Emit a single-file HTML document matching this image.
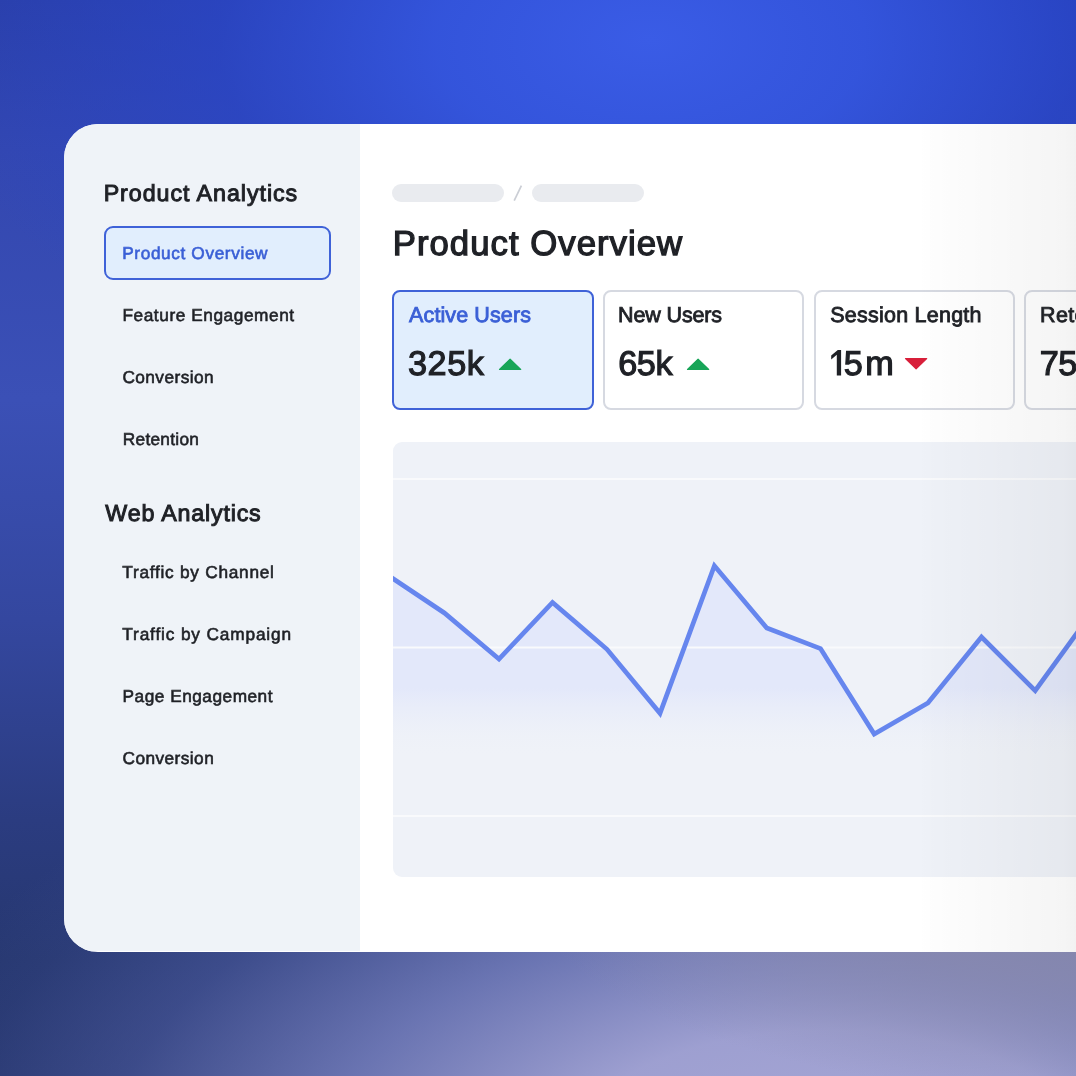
<!DOCTYPE html>
<html lang="en">
<head>
<meta charset="utf-8">
<title>Product Overview</title>
<style>
  html, body { margin: 0; padding: 0; }
  body {
    width: 1076px; height: 1076px; overflow: hidden; position: relative;
    font-family: "Liberation Sans", sans-serif;
    color: #1f2126;
    background: #3a4fb5;
  }
  .bg { position: absolute; left: 0; top: 0; width: 1076px; height: 1076px;
    background:
      radial-gradient(ellipse 720px 400px at 650px 40px, rgba(58,92,230,1) 0%, rgba(52,86,224,0.9) 30%, rgba(42,70,200,0.7) 60%, rgba(40,66,190,0) 100%),
      radial-gradient(ellipse 380px 300px at 1130px 0px, rgba(36,64,186,1) 0%, rgba(36,64,186,0) 100%),
      radial-gradient(ellipse 620px 210px at 1150px 890px, rgba(136,137,172,1) 0%, rgba(136,137,174,0.8) 45%, rgba(136,137,176,0) 100%),
      radial-gradient(ellipse 980px 500px at 830px 1170px, rgba(168,168,214,1) 0%, rgba(164,165,214,0.95) 28%, rgba(132,140,204,0.72) 52%, rgba(95,108,182,0.4) 74%, rgba(80,95,170,0.12) 90%, rgba(80,95,170,0) 100%),
      linear-gradient(to bottom, #2a3fa8 0px, #3347b0 150px, #3b50b6 400px, #34479f 620px, #2b3c80 820px, #26376f 960px, #25356c 1076px);
  }

  .panel {
    position: absolute; left: 64px; top: 124px; width: 1100px; height: 828px;
    background: #ffffff; border-radius: 34px; overflow: hidden; will-change: transform;
  }
  .sidebar {
    position: absolute; left: 0; top: 0; width: 296px; height: 826.8px;
    background: #eff3f8;
  }
  .t { position: absolute; white-space: nowrap; line-height: 1; text-rendering: geometricPrecision; }
  .sel {
    position: absolute; left: 40px; top: 102px; width: 223px; height: 50px;
    border: 2px solid #3f62d8; border-radius: 9px; background: #e1eefd;
  }
  .pill { position: absolute; height: 18px; border-radius: 9px; background: #e9ebef; }
  .card {
    position: absolute; top: 166px; width: 197px; height: 116px;
    border: 2px solid #d6d9e1; border-radius: 8px; background: #fff;
  }
  .card.on { border-color: #3f62d8; background: #e1eefd; }
  .chart {
    position: absolute; left: 329px; top: 318px; width: 800px; height: 434.6px;
    background: #eff2f8; border-radius: 9px; overflow: hidden;
  }
  .fade {
    position: absolute; left: 0; top: 0; width: 1012px; height: 828px;
    background: linear-gradient(to right, rgba(0,0,0,0) 854px, rgba(0,0,0,0.008) 870px, rgba(0,0,0,0.025) 935px, rgba(0,0,0,0.040) 1000px, rgba(0,0,0,0.050) 1012px);
  }
</style>
</head>
<body>
<div class="bg"></div>
<div class="panel">
  <div class="sidebar"></div>
  <div class="sel"></div>

  <div class="pill" style="left:328px; top:60px; width:112px;"></div>
  <div class="pill" style="left:468px; top:60px; width:112px;"></div>

  <div class="card on" style="left:328px; width:198px;"></div>
  <div class="card" style="left:539px;"></div>
  <div class="card" style="left:750px;"></div>
  <div class="card" style="left:960px;"></div>

  <div class="t" id="t0" style="left:39.65px; top:58px; font-size:23.25px; letter-spacing:0.953px; color:#1f2126; -webkit-text-stroke:1.0px #1f2126;">Product Analytics</div>
  <div class="t" id="t1" style="left:58.20px; top:121px; font-size:17.25px; letter-spacing:0.617px; color:#3a5fd6; -webkit-text-stroke:0.6px #3a5fd6;">Product Overview</div>
  <div class="t" id="t2" style="left:58.46px; top:183px; font-size:17.25px; letter-spacing:0.565px; color:#1f2126; -webkit-text-stroke:0.6px #1f2126;">Feature Engagement</div>
  <div class="t" id="t3" style="left:58.40px; top:245px; font-size:17.25px; letter-spacing:0.444px; color:#1f2126; -webkit-text-stroke:0.6px #1f2126;">Conversion</div>
  <div class="t" id="t4" style="left:58.80px; top:307px; font-size:17.25px; letter-spacing:0.281px; color:#1f2126; -webkit-text-stroke:0.6px #1f2126;">Retention</div>
  <div class="t" id="t5" style="left:41.35px; top:378px; font-size:23.25px; letter-spacing:0.813px; color:#1f2126; -webkit-text-stroke:1.0px #1f2126;">Web Analytics</div>
  <div class="t" id="t6" style="left:58.30px; top:440px; font-size:17.25px; letter-spacing:0.741px; color:#1f2126; -webkit-text-stroke:0.6px #1f2126;">Traffic by Channel</div>
  <div class="t" id="t7" style="left:58.30px; top:502px; font-size:17.25px; letter-spacing:0.853px; color:#1f2126; -webkit-text-stroke:0.6px #1f2126;">Traffic by Campaign</div>
  <div class="t" id="t8" style="left:58.60px; top:564px; font-size:17.25px; letter-spacing:0.500px; color:#1f2126; -webkit-text-stroke:0.6px #1f2126;">Page Engagement</div>
  <div class="t" id="t9" style="left:58.50px; top:626px; font-size:17.25px; letter-spacing:0.444px; color:#1f2126; -webkit-text-stroke:0.6px #1f2126;">Conversion</div>
  <div class="t" id="t10" style="left:328.75px; top:103px; font-size:34.75px; letter-spacing:1.010px; color:#1f2126; -webkit-text-stroke:1.3px #1f2126;">Product Overview</div>
  <div class="t" id="t11" style="left:345.10px; top:181px; font-size:21.5px; letter-spacing:0.105px; color:#3a5fd6; -webkit-text-stroke:0.85px #3a5fd6;">Active Users</div>
  <div class="t" id="t12" style="left:343.95px; top:223px; font-size:34.25px; letter-spacing:0.567px; color:#1f2126; -webkit-text-stroke:1.2px #1f2126;">325k</div>
  <div class="t" id="t13" style="left:554.10px; top:181px; font-size:21.5px; letter-spacing:-0.144px; color:#1f2126; -webkit-text-stroke:0.85px #1f2126;">New Users</div>
  <div class="t" id="t14" style="left:554.15px; top:223px; font-size:34.25px; letter-spacing:-0.350px; color:#1f2126; -webkit-text-stroke:1.2px #1f2126;">65k</div>
  <div class="t" id="t15" style="left:766.30px; top:181px; font-size:21.5px; letter-spacing:0.231px; color:#1f2126; -webkit-text-stroke:0.85px #1f2126;">Session Length</div>
  <div class="t" id="t16" style="left:779.85px; top:223px; font-size:34.25px; letter-spacing:2.250px; color:#1f2126; -webkit-text-stroke:1.2px #1f2126;">5m</div>
  <div class="t" id="t17" style="left:976.05px; top:181px; font-size:21.5px; letter-spacing:0.351px; color:#1f2126; -webkit-text-stroke:0.85px #1f2126;">Retention</div>
  <div class="t" id="t18" style="left:975.65px; top:223px; font-size:34.25px; letter-spacing:-0.350px; color:#1f2126; -webkit-text-stroke:1.2px #1f2126;">75%</div>

  <svg style="position:absolute; left:0; top:0;" width="1012" height="827" viewBox="64 124 1012 827">
    <path d="M499.5 369.5 L510.1 359.1 L520.7 369.5 Z" fill="#18a558" stroke="#18a558" stroke-width="1.2" stroke-linejoin="round"/>
    <path d="M687.5 369.5 L698.1 359.1 L708.7 369.5 Z" fill="#18a558" stroke="#18a558" stroke-width="1.2" stroke-linejoin="round"/>
    <path d="M905.5 358.6 L916.1 368.8 L926.7 358.6 Z" fill="#d81f3a" stroke="#d81f3a" stroke-width="1.2" stroke-linejoin="round"/>
    <path d="M521.4 185.6 L514.2 200.6" stroke="#cbced5" stroke-width="1.7" stroke-linecap="butt" fill="none"/>
    <path d="M841.1 350 L841.1 375.4 L836.8 375.4 L836.8 354.8 L831.2 359.6 L831.2 355.4 L837.8 350 Z" fill="#1f2126"/>
  </svg>

  <div class="chart">
    <svg style="position:absolute; left:0; top:0;" width="800" height="434" viewBox="393 442 800 434">
      <defs>
        <linearGradient id="ar" gradientUnits="userSpaceOnUse" x1="0" y1="558" x2="0" y2="758">
          <stop offset="0" stop-color="#e3e8fa" stop-opacity="1"/>
          <stop offset="0.65" stop-color="#e3e8fa" stop-opacity="1"/>
          <stop offset="1" stop-color="#eff2f8" stop-opacity="0"/>
        </linearGradient>
      </defs>
      <path d="M392 577.8 L444.4 613 L499 659 L552.5 602.4 L607 649.3 L660 713.3 L714.4 565.8 L766.8 628 L820.5 648.6 L874.2 734 L927.9 703 L981.5 637 L1035.2 690.7 L1089 616.5 L1142 640 L1192 640 L1192 780 L392 780 Z" fill="url(#ar)"/>
      <rect x="392" y="478" width="800" height="2" fill="#f9fafc"/>
      <rect x="392" y="646.5" width="800" height="2" fill="#f9fafc"/>
      <rect x="392" y="815" width="800" height="2" fill="#f9fafc"/>
      <path d="M390 576.6 L444.4 613 L499 659 L552.5 602.4 L607 649.3 L660 713.3 L714.4 565.8 L766.8 628 L820.5 648.6 L874.2 734 L927.9 703 L981.5 637 L1035.2 690.7 L1089 616.5 L1142 640" fill="none" stroke="#6686ee" stroke-width="4.7" stroke-linejoin="miter"/>
    </svg>
  </div>

  <div class="fade"></div>
</div>
</body>
</html>
